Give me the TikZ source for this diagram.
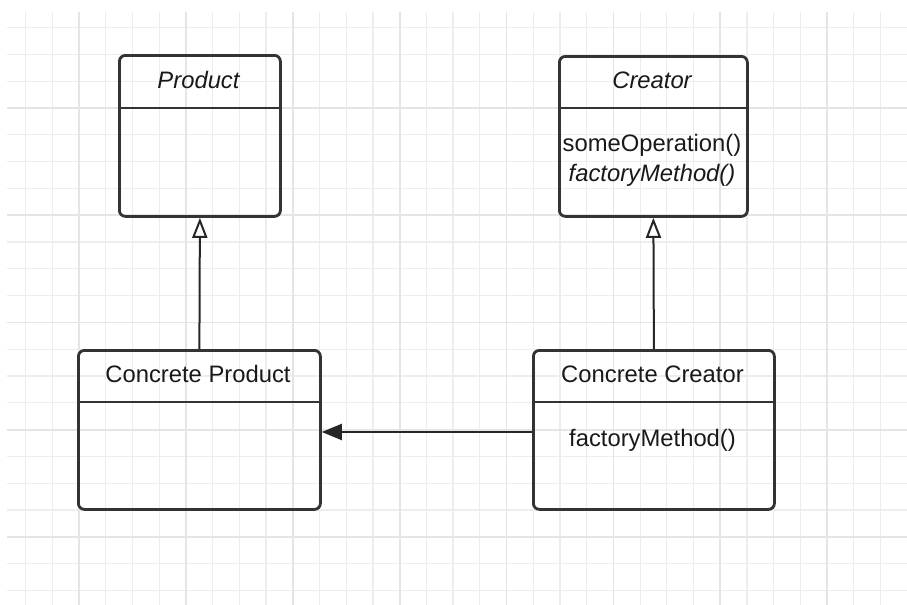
\documentclass[tikz,border=0pt]{standalone}
\usepackage{fontspec}
\setmainfont{Liberation Sans}
\usetikzlibrary{arrows.meta}

\tikzset{
  classbox/.style={draw=black!80, line width=1.4pt, rounded corners=3pt, anchor=north west, inner sep=0pt},
  classtext/.style={font=\fontsize{11.9}{14}\selectfont, text=black!90, inner sep=0pt},
  sepline/.style={draw=black!80, line width=1.4pt},
  inherit/.style={draw=black!85, line width=1pt, -{Triangle[open, length=10pt, width=7.5pt, fill=white]}},
  assoc/.style={draw=black!85, line width=1pt, -{Triangle[length=10pt, width=8pt]}},
  gridminor/.style={draw=black!7, line width=0.6pt},
  gridmajor/.style={draw=black!10, line width=0.9pt}
}

\begin{document}
\begin{tikzpicture}[x=0.5pt, y=-0.5pt]
    \useasboundingbox (0,0) rectangle (907,605);

    % Background grid
    \foreach \k in {-2,...,31}
        \draw[gridminor] ({79+26.72*\k},12) -- ({79+26.72*\k},605);
    \foreach \k in {-3,...,18}
        \draw[gridminor] (7,{108+26.8*\k}) -- (907,{108+26.8*\k});
    \foreach \k in {0,4,...,28}
        \draw[gridmajor] ({79+26.72*\k},12) -- ({79+26.72*\k},605);
    \foreach \k in {0,4,...,16}
        \draw[gridmajor] (7,{108+26.8*\k}) -- (907,{108+26.8*\k});

    % Abstract classes
    \node[classbox, minimum width=80.5pt, minimum height=80.5pt] (product) at (118,54) {};
    \node[classbox, minimum width=94pt, minimum height=80pt] (creator) at (558,55) {};

    % Concrete classes
    \node[classbox, minimum width=121pt, minimum height=79.5pt] (cproduct) at (77,349) {};
    \node[classbox, minimum width=120.5pt, minimum height=79.5pt] (ccreator) at (532,349) {};

    % Compartment lines
    \coordinate (sepTop) at (0,108);
    \coordinate (sepBottom) at (0,402);
    \draw[sepline] (product.west |- sepTop) -- (product.east |- sepTop);
    \draw[sepline] (creator.west |- sepTop) -- (creator.east |- sepTop);
    \draw[sepline] (cproduct.west |- sepBottom) -- (cproduct.east |- sepBottom);
    \draw[sepline] (ccreator.west |- sepBottom) -- (ccreator.east |- sepBottom);

    % Class names and operations
    \node[classtext, font=\fontsize{11.9}{14}\selectfont\itshape] (productName) at (198.5,80) {Product};
    \node[classtext, font=\fontsize{11.9}{14}\selectfont\itshape] (creatorName) at (652,80) {Creator};
    \node[classtext] (someOp) at (652,145) {someOperation()};
    \node[classtext, font=\fontsize{11.9}{14}\selectfont\itshape] (abstractFactory) at (652,175) {factoryMethod()};
    \node[classtext] (cproductName) at (198,374) {Concrete Product};
    \node[classtext] (ccreatorName) at (652.5,374) {Concrete Creator};
    \node[classtext] (concreteFactory) at (652.5,440) {factoryMethod()};

    % Inheritance
    \draw[inherit] (cproduct.north) -- (product.south);
    \draw[inherit] (ccreator.north) -- (creator.south);

    % Association
    \coordinate (assocY) at (0,432);
    \draw[assoc] (ccreator.west |- assocY) -- (cproduct.east |- assocY);
\end{tikzpicture}
\end{document}
